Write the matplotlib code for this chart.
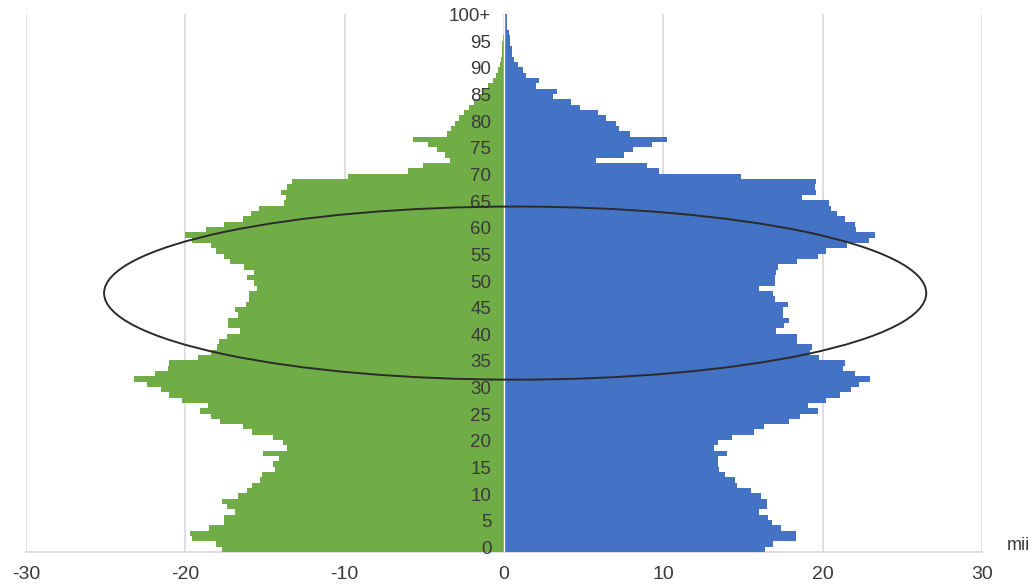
import matplotlib
matplotlib.use("Agg")
import matplotlib.pyplot as plt
from matplotlib.patches import Ellipse

# ---------------------------------------------------------------------------
# Data: population by single year of age (0 .. 100+), in thousands ("mii")
# ---------------------------------------------------------------------------
ages = list(range(101))

left_green = [
    17.7, 18.1, 19.6, 19.7, 18.5, 17.6, 17.6, 16.9, 17.4, 17.7,
    16.7, 16.1, 15.8, 15.3, 15.2, 14.4, 14.5, 14.1, 15.1, 13.6,
    13.9, 14.5, 15.8, 16.4, 17.8, 18.4, 19.1, 18.6, 20.2, 21.0,
    21.5, 22.4, 23.2, 21.9, 21.1, 21.0, 19.2, 18.4, 18.0, 17.9,
    17.4, 16.6, 17.3, 17.3, 16.7, 16.9, 16.2, 16.0, 16.0, 15.5,
    15.7, 16.1, 15.7, 16.3, 17.2, 17.6, 18.1, 18.4, 19.6, 20.0,
    18.7, 17.6, 16.4, 15.9, 15.4, 13.8, 13.7, 14.0, 13.6, 13.3,
    9.8, 6.0, 5.1, 3.4, 3.7, 4.2, 4.8, 5.7, 3.6, 3.3,
    3.1, 2.8, 2.5, 2.2, 1.9, 1.6, 1.3, 1.0, 0.7, 0.5,
    0.35, 0.25, 0.2, 0.15, 0.1, 0.1, 0.05, 0.03, 0.02, 0.01,
    0.01,
]

right_blue = [
    16.4, 16.9, 18.3, 18.3, 17.4, 16.8, 16.6, 16.0, 16.5, 16.5,
    16.1, 15.5, 14.6, 14.5, 13.9, 13.5, 13.4, 13.4, 14.0, 13.2,
    13.4, 14.3, 15.7, 16.3, 17.9, 18.6, 19.7, 19.1, 20.2, 21.1,
    21.8, 22.3, 23.0, 22.0, 21.3, 21.4, 19.8, 19.2, 19.3, 18.4,
    18.4, 17.1, 17.6, 17.9, 17.5, 17.5, 17.8, 17.0, 16.9, 16.0,
    17.0, 17.0, 17.1, 17.2, 18.4, 19.7, 20.2, 21.5, 22.9, 23.3,
    22.1, 22.0, 21.4, 20.9, 20.5, 20.4, 18.7, 19.6, 19.5, 19.6,
    14.9, 9.7, 9.0, 5.8, 7.5, 8.1, 9.3, 10.2, 7.9, 7.2,
    7.0, 6.4, 5.9, 4.8, 4.2, 3.1, 3.3, 2.0, 2.2, 1.4,
    1.2, 0.9, 0.6, 0.5, 0.5, 0.4, 0.4, 0.3, 0.2, 0.2,
    0.2,
]

label_ages = [0, 5, 10, 15, 20, 25, 30, 35, 40, 45, 50,
              55, 60, 65, 70, 75, 80, 85, 90, 95, 100]
label_text = ["0", "5", "10", "15", "20", "25", "30", "35", "40", "45", "50",
              "55", "60", "65", "70", "75", "80", "85", "90", "95", "100+"]

x_ticks = [-30, -20, -10, 0, 10, 20, 30]
x_tick_labels = ["-30", "-20", "-10", "0", "10", "20", "30"]
unit_label = "mii"

GREEN = "#70AD47"
BLUE = "#4472C4"
GRID = "#D9D9D9"
TEXT = "#3a3a3a"

plt.rcParams["font.family"] = ["Liberation Sans", "DejaVu Sans"]

fig = plt.figure(figsize=(10.35, 5.84), dpi=100)
ax = fig.add_axes([26 / 1035, 1 - 552 / 584, (982 - 26) / 1035, (552 - 14) / 584])

# gridlines
for xv in x_ticks:
    ax.axvline(xv, color=GRID, lw=1.2, zorder=0)

ax.barh(ages, [-v for v in left_green], height=1.0, color=GREEN, lw=0, zorder=2)
ax.barh(ages, right_blue, height=1.0, color=BLUE, lw=0, zorder=2)
ax.axvline(0, color="white", lw=1.0, zorder=3)

# age labels in the middle
for a, t in zip(label_ages, label_text):
    ax.text(-0.8, a, t, ha="right", va="center", fontsize=13.5, color=TEXT, zorder=5)

# highlighted cohort
ell = Ellipse((0.7, 48.1), width=51.6, height=32.5, fill=False,
              edgecolor="#2b2b2b", lw=1.4, zorder=6)
ax.add_patch(ell)

ax.set_xlim(-30, 30)
ax.set_ylim(-0.5, 100.5)
ax.set_xticks(x_ticks)
ax.set_xticklabels(x_tick_labels)
ax.set_yticks([])
ax.tick_params(axis="x", length=0, pad=10, labelsize=14, labelcolor=TEXT)
for side in ["top", "right", "left"]:
    ax.spines[side].set_visible(False)
ax.spines["bottom"].set_color(GRID)
ax.spines["bottom"].set_linewidth(1.2)
ax.spines["bottom"].set_zorder(1)

fig.text(1018 / 1035, 1 - 546 / 584, unit_label, ha="center", va="center",
         fontsize=13, color=TEXT)

fig.savefig("out.png", dpi=100)
